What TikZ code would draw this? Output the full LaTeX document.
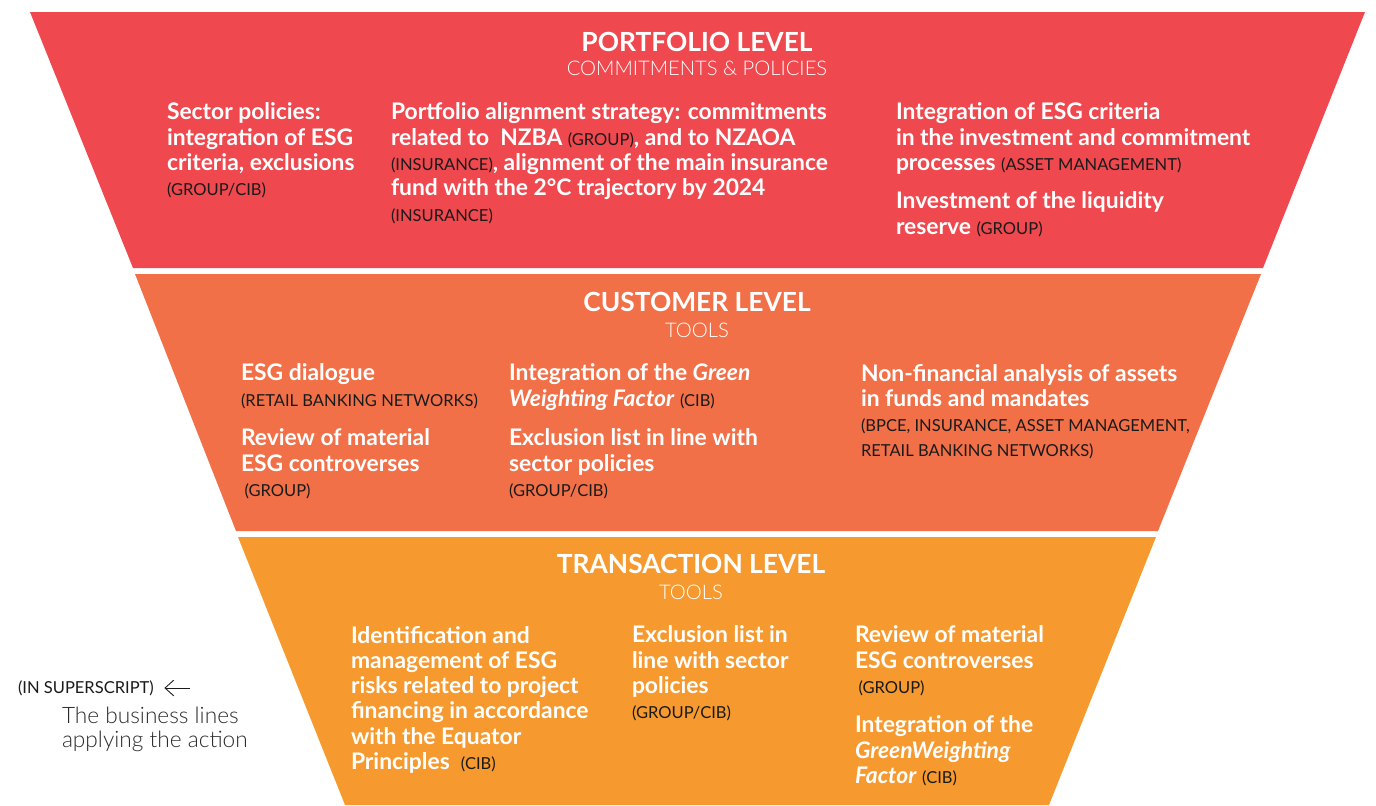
\documentclass[tikz,border=0pt]{standalone}
\usepackage{fontspec}
\setmainfont{Lato}
\newfontfamily\lightfont{Lato Light}
\usetikzlibrary{arrows.meta}

\definecolor{portred}{HTML}{EF484E}
\definecolor{custorange}{HTML}{F27048}
\definecolor{transorange}{HTML}{F69A30}
\definecolor{labblack}{HTML}{1A1A1A}
\definecolor{notegray}{HTML}{2B2B2B}

\newcommand{\bl}[1]{{\fontsize{9.4}{14.4}\selectfont\mdseries\upshape\color{labblack}#1}}

\begin{document}
\begin{tikzpicture}[x=0.02cm, y=-0.02cm,
  every node/.style={inner sep=0pt, outer sep=0pt},
  level/.style={font=\fontsize{15}{18}\selectfont\bfseries, text=white},
  sub/.style={font=\lightfont\fontsize{11.5}{14}\selectfont, text=white},
  item/.style={anchor=north west, align=left, font=\fontsize{13}{14.4}\selectfont\bfseries, text=white}]
  \useasboundingbox (0,0) rectangle (1376,805);

  \fill[portred] (30,12) -- (1365,12) -- (1263,268) -- (133,268) -- cycle;
  \fill[custorange] (135,274) -- (1261,274) -- (1158,531) -- (236,531) -- cycle;
  \fill[transorange] (238,537) -- (1156,537) -- (1049,805) -- (345,805) -- cycle;

  \node[level] (portfolio) at (697,42) {PORTFOLIO LEVEL};
  \node[sub] (commit) at (697,68) {COMMITMENTS \& POLICIES};
  \node[item] (sector) at (167,103) {Sector policies:\\integration of ESG\\criteria, exclusions\\\bl{(GROUP/CIB)}};
  \node[item] (align) at (391,103) {Portfolio alignment strategy: commitments\\related to\ \ NZBA \bl{(GROUP)}, and to NZAOA\\\bl{(INSURANCE)}, alignment of the main insurance\\fund with the 2°C trajectory by 2024\\\bl{(INSURANCE)}};
  \node[item] (esgint) at (896,103) {Integration of ESG criteria\\in the investment and commitment\\processes \bl{(ASSET MANAGEMENT)}};
  \node[item] (liquid) at (896,192) {Investment of the liquidity\\reserve \bl{(GROUP)}};

  \node[level] (customer) at (697,302) {CUSTOMER LEVEL};
  \node[sub] (tools1) at (697,330) {TOOLS};
  \node[item] (dialogue) at (241,364) {ESG dialogue\\\bl{(RETAIL BANKING NETWORKS)}};
  \node[item] (review1) at (241,429) {Review of material\\ESG controverses\\\hspace{2pt}\bl{(GROUP)}};
  \node[item] (gwf1) at (509,364) {Integration of the \textit{Green}\\\textit{Weighting Factor} \bl{(CIB)}};
  \node[item] (excl1) at (509,429) {Exclusion list in line with\\sector policies\\\bl{(GROUP/CIB)}};
  \node[item] (nonfin) at (861,364) {Non-financial analysis of assets\\in funds and mandates\\\bl{(BPCE, INSURANCE, ASSET MANAGEMENT,}\\\bl{RETAIL BANKING NETWORKS)}};

  \node[level] (transaction) at (691,564) {TRANSACTION LEVEL};
  \node[sub] (tools2) at (691,592) {TOOLS};
  \node[item] (equator) at (351,626) {Identification and\\management of ESG\\risks related to project\\financing in accordance\\with the Equator\\Principles\ \ \bl{(CIB)}};
  \node[item] (excl2) at (632,626) {Exclusion list in\\line with sector\\policies\\\bl{(GROUP/CIB)}};
  \node[item] (review2) at (855,626) {Review of material\\ESG controverses\\\hspace{2pt}\bl{(GROUP)}};
  \node[item] (gwf2) at (855,716) {Integration of the\\\textit{GreenWeighting}\\\textit{Factor} \bl{(CIB)}};

  \node[anchor=west, font=\fontsize{9.4}{10}\selectfont, text=labblack] (insup) at (18,688) {(IN SUPERSCRIPT)};
  \node[anchor=north west, align=left, font=\lightfont\fontsize{12.9}{13.8}\selectfont, text=notegray] (busl) at (62,707) {The business lines\\applying the action};
  \coordinate (arrtail) at (190,688);
  \draw[-{Straight Barb[length=5pt, width=9pt]}, line width=0.5pt, labblack, shorten >=6pt] (arrtail) -- (insup);
\end{tikzpicture}
\end{document}
